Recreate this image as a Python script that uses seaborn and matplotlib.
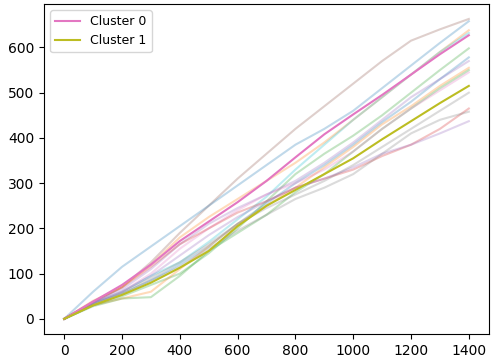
import numpy as np
import pandas as pd
import matplotlib
matplotlib.use("Agg")
import matplotlib.pyplot as plt
import seaborn as sns

x = [0, 100, 200, 300, 400, 500, 600, 700, 800, 900, 1000, 1100, 1200, 1300, 1400]

cluster0 = [0, 38, 75, 120, 172, 215, 258, 305, 357, 408, 452, 495, 540, 585, 627]
cluster1 = [0, 30, 53, 80, 113, 150, 205, 250, 285, 320, 355, 397, 437, 477, 515]

faint_brown = [0, 35, 70, 125, 190, 250, 310, 365, 420, 470, 520, 570, 615, 640, 663]
faint_blue = [0, 60, 115, 160, 205, 250, 295, 340, 385, 420, 460, 510, 560, 610, 658]
faint_orange = [0, 40, 70, 120, 180, 225, 265, 305, 345, 390, 440, 490, 540, 590, 638]
faint_cyan = [0, 35, 60, 95, 125, 170, 220, 270, 330, 385, 440, 490, 540, 590, 632]
faint_green = [0, 30, 50, 75, 100, 145, 200, 260, 320, 365, 405, 450, 500, 550, 598]
faint_blue2 = [0, 35, 55, 85, 120, 160, 210, 255, 300, 340, 385, 435, 480, 530, 578]
faint_purple = [0, 38, 65, 110, 165, 210, 245, 275, 305, 345, 390, 440, 490, 530, 570]
faint_orange2 = [0, 30, 45, 60, 110, 160, 210, 250, 290, 335, 380, 430, 470, 515, 555]
faint_green2 = [0, 28, 45, 48, 95, 150, 190, 230, 280, 320, 370, 420, 465, 510, 550]
faint_pink = [0, 35, 60, 100, 155, 200, 240, 275, 300, 330, 370, 420, 465, 505, 545]
faint_red = [0, 38, 70, 115, 165, 200, 235, 260, 290, 310, 330, 360, 385, 420, 465]
faint_gray = [0, 30, 55, 85, 115, 155, 195, 230, 265, 290, 320, 365, 410, 440, 458]
faint_purple2 = [0, 35, 60, 95, 140, 185, 225, 260, 290, 310, 335, 365, 385, 410, 437]
faint_gray2 = [0, 32, 58, 90, 125, 165, 210, 245, 275, 305, 340, 380, 420, 460, 500]

faint = {
    "brown": (faint_brown, "#8c564b"),
    "blue": (faint_blue, "#1f77b4"),
    "orange": (faint_orange, "#ff7f0e"),
    "cyan": (faint_cyan, "#17becf"),
    "green": (faint_green, "#2ca02c"),
    "blue2": (faint_blue2, "#1f77b4"),
    "purple": (faint_purple, "#9467bd"),
    "orange2": (faint_orange2, "#ff7f0e"),
    "green2": (faint_green2, "#2ca02c"),
    "pink": (faint_pink, "#e377c2"),
    "red": (faint_red, "#d62728"),
    "gray": (faint_gray, "#7f7f7f"),
    "purple2": (faint_purple2, "#9467bd"),
    "gray2": (faint_gray2, "#7f7f7f"),
}

rows = []
for name, (vals, _) in faint.items():
    for xi, yi in zip(x, vals):
        rows.append({"x": xi, "y": yi, "series": name})
df_faint = pd.DataFrame(rows)
palette = {name: col for name, (_, col) in faint.items()}

fig, ax = plt.subplots(figsize=(4.94, 3.59), dpi=100)
sns.lineplot(data=df_faint, x="x", y="y", hue="series", palette=palette,
             alpha=0.28, linewidth=1.5, legend=False, ax=ax, estimator=None)
sns.lineplot(x=x, y=cluster0, color="#e377c2", linewidth=1.5, label="Cluster 0", ax=ax)
sns.lineplot(x=x, y=cluster1, color="#bcbd22", linewidth=1.5, label="Cluster 1", ax=ax)

ax.set_xlabel("")
ax.set_ylabel("")
ax.legend(loc="upper left", fontsize=9)
ax.set_xticks([0, 200, 400, 600, 800, 1000, 1200, 1400])
fig.subplots_adjust(left=0.089, right=0.99, bottom=0.07, top=0.989)
fig.savefig("out.png", dpi=100)
